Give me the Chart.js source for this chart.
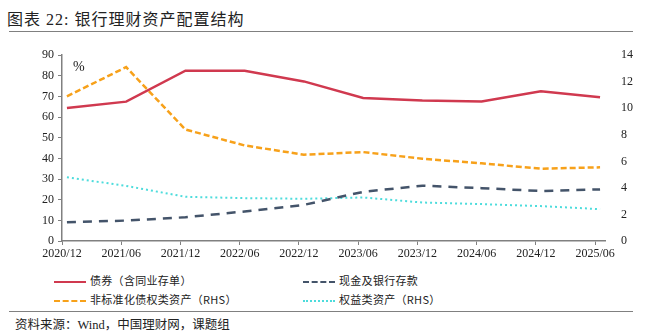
<!DOCTYPE html>
<html>
<head>
<meta charset="utf-8">
<script src="https://cdn.jsdelivr.net/npm/chart.js@4.4.0/dist/chart.umd.min.js"></script>
<style>
  body { margin: 0; width: 645px; height: 333px; background: #fff; position: relative; overflow: hidden;
         font-family: "Liberation Serif", "Noto Sans CJK SC", serif; color: #222; }
  #title { position: absolute; left: 7px; top: 6px; font-size: 16px; font-family: "Liberation Serif", "Noto Sans CJK SC", serif; letter-spacing: 1px; }
  .rule { position: absolute; left: 9px; width: 624px; height: 0; border-top: 1.5px solid #808080; }
  #chartBox { position: absolute; left: 0; top: 40px; width: 645px; height: 225px; }
  .leg { position: absolute; font-size: 11px; font-family: "Noto Sans CJK SC", serif; line-height: 14px; letter-spacing: 0.3px; }
  .leg span.mk { display: inline-block; width: 32px; height: 0; vertical-align: middle; margin-right: 4px; }
  #source { position: absolute; left: 15px; top: 314px; font-size: 12.5px; font-family: "Liberation Serif", "Noto Sans CJK SC", serif; }
</style>
</head>
<body>
<div id="title">图表 22: 银行理财资产配置结构</div>
<div class="rule" style="top:31px"></div>
<div id="chartBox"><canvas id="assetChart"></canvas></div>
<div class="leg" style="left:54px; top:273px"><span class="mk" style="border-top:2.5px solid #D0394F"></span>债券（含同业存单）</div>
<div class="leg" style="left:303px; top:273px"><span class="mk" style="border-top:2.5px dashed #44546A"></span>现金及银行存款</div>
<div class="leg" style="left:54px; top:292px"><span class="mk" style="border-top:2.5px dashed #F7A11A"></span>非标准化债权类资产（RHS）</div>
<div class="leg" style="left:303px; top:292px"><span class="mk" style="border-top:2px dotted #4DDCDC"></span>权益类资产（RHS）</div>
<div class="rule" style="top:311px"></div>
<div id="source">资料来源：Wind，中国理财网，课题组</div>

<script>
const periods = ["2020/12", "2021/06", "2021/12", "2022/06", "2022/12", "2023/06", "2023/12", "2024/06", "2024/12", "2025/06"];

// 左轴（%）
const bonds = [64.4, 67.5, 82.5, 82.5, 77.3, 69.3, 68.1, 67.6, 72.5, 69.6];
const cashDeposits = [9.1, 9.9, 11.5, 14.3, 17.5, 23.8, 26.8, 25.6, 24.2, 25.0];
// 右轴（%）
const nonStandard = [10.9, 13.1, 8.4, 7.2, 6.5, 6.7, 6.2, 5.85, 5.45, 5.55];
const equity = [4.8, 4.15, 3.33, 3.23, 3.18, 3.28, 2.9, 2.78, 2.63, 2.4];

const leftTicks = [0, 10, 20, 30, 40, 50, 60, 70, 80, 90];
const rightTicks = [0, 2, 4, 6, 8, 10, 12, 14];

// 半年一个点，x 轴按月计
function toPoints(values) {
  return values.map((v, i) => ({ x: i * 6 + 0.5, y: v }));
}

const tickFont = { family: "'Liberation Serif', 'Times New Roman', serif", size: 12 };

const percentLabel = {
  id: "percentLabel",
  afterDraw(chart) {
    const ctx = chart.ctx;
    const area = chart.chartArea;
    ctx.save();
    ctx.font = "14px 'Liberation Serif', serif";
    ctx.fillStyle = "#222";
    ctx.textBaseline = "middle";
    ctx.fillText("%", area.left + 11, area.top + 12);
    ctx.restore();
  }
};

new Chart(document.getElementById("assetChart"), {
  type: "line",
  data: {
    datasets: [
      {
        label: "债券（含同业存单）",
        data: toPoints(bonds),
        borderColor: "#D0394F",
        borderWidth: 2.5,
        yAxisID: "y"
      },
      {
        label: "现金及银行存款",
        data: toPoints(cashDeposits),
        borderColor: "#44546A",
        borderWidth: 2.5,
        borderDash: [9, 7],
        yAxisID: "y"
      },
      {
        label: "非标准化债权类资产（RHS）",
        data: toPoints(nonStandard),
        borderColor: "#F7A11A",
        borderWidth: 2.5,
        borderDash: [6, 3],
        yAxisID: "y1"
      },
      {
        label: "权益类资产（RHS）",
        data: toPoints(equity),
        borderColor: "#4DDCDC",
        borderWidth: 2,
        borderDash: [2, 3],
        yAxisID: "y1"
      }
    ]
  },
  options: {
    responsive: true,
    maintainAspectRatio: false,
    animation: false,
    layout: { padding: { top: 15, bottom: 0, left: 0, right: 0 } },
    elements: {
      point: { radius: 0 },
      line: { tension: 0, fill: false }
    },
    plugins: {
      legend: { display: false },
      tooltip: { enabled: false }
    },
    scales: {
      x: {
        type: "linear",
        min: 0,
        max: 55,
        afterBuildTicks: function (scale) {
          scale.ticks = periods.map((p, i) => ({ value: i * 6 }));
        },
        ticks: {
          font: tickFont,
          color: "#222",
          maxRotation: 0,
          autoSkip: false,
          padding: 2,
          callback: function (value) {
            return periods[Math.round(value / 6)];
          }
        },
        grid: { drawOnChartArea: false, drawTicks: true, tickLength: 4, color: "#808080" },
        border: { color: "#808080", width: 1.5 },
        afterFit: function (scale) { scale.height = 24; }
      },
      y: {
        position: "left",
        min: 0,
        max: 90,
        afterBuildTicks: function (scale) {
          scale.ticks = leftTicks.map(v => ({ value: v }));
        },
        ticks: { font: tickFont, color: "#222", padding: 4 },
        grid: { drawOnChartArea: false, drawTicks: true, tickLength: 4, color: "#808080" },
        border: { color: "#808080", width: 1.5 },
        afterFit: function (scale) { scale.width = 62; }
      },
      y1: {
        position: "right",
        min: 0,
        max: 14,
        afterBuildTicks: function (scale) {
          scale.ticks = rightTicks.map(v => ({ value: v }));
        },
        ticks: { font: tickFont, color: "#222", padding: 8 },
        grid: { display: false },
        border: { display: false },
        afterFit: function (scale) { scale.width = 40; }
      }
    }
  },
  plugins: [percentLabel]
});
</script>
</body>
</html>
